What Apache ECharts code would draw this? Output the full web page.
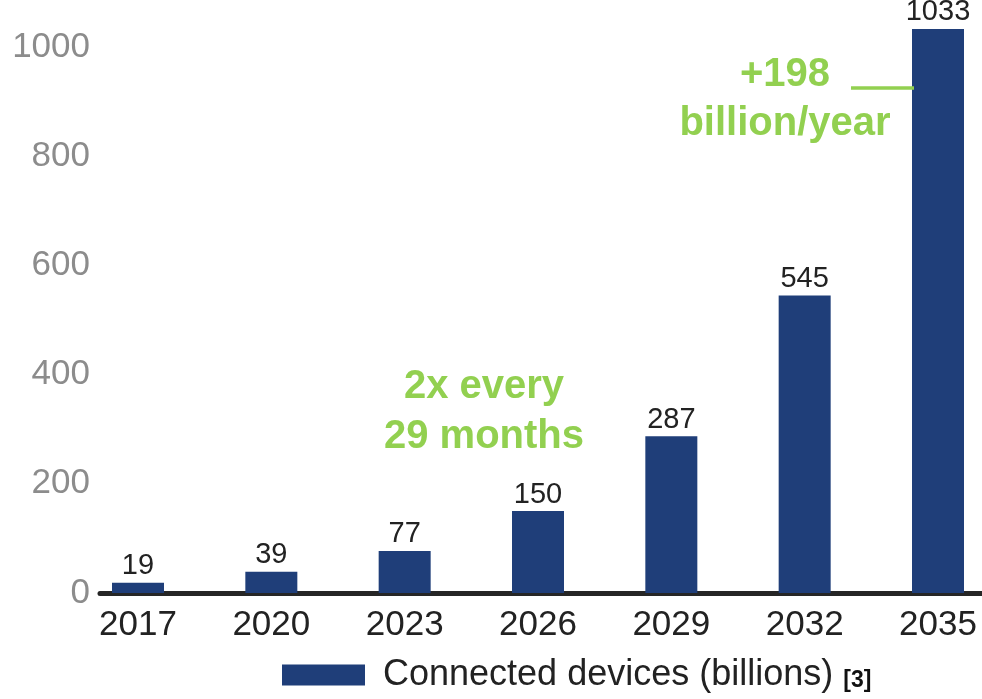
<!DOCTYPE html>
<html>
<head>
<meta charset="utf-8">
<title>Connected devices (billions)</title>
<script src="https://cdn.jsdelivr.net/npm/echarts@6/dist/echarts.min.js"></script>
<style>
  html, body { margin: 0; padding: 0; background: #ffffff; }
  #chart { width: 982px; height: 699px; }
</style>
</head>
<body>
<div id="chart"></div>
<script>
// Years shown on the category axis
const years = ['2017', '2020', '2023', '2026', '2029', '2032', '2035'];
// Connected devices per year, in billions
const devices = [19, 39, 77, 150, 287, 545, 1033];
// Value-axis range and step
const yMin = 0;
const yMax = 1000;
const yStep = 200;

const seriesName = 'Connected devices (billions)';
const footnote = '[3]';
const growthNote = ['2x every', '29 months'];
const rateNote = ['+198', 'billion/year'];

const BAR = '#1f3e79';
const GREEN = '#92d050';
const FONT = '"Liberation Sans", Arial, sans-serif';

const chart = echarts.init(document.getElementById('chart'), null, { renderer: 'canvas' });

const plotTop = 47;
const plotHeight = 546;

chart.setOption({
  animation: false,
  backgroundColor: '#ffffff',
  textStyle: { fontFamily: FONT },
  grid: [
    // bars and year labels: categories sit on the grid edges
    { left: 138, top: plotTop, width: 800, height: plotHeight, containLabel: false },
    // baseline and value labels
    { left: 100, top: plotTop, right: 0, height: plotHeight, containLabel: false }
  ],
  xAxis: [
    {
      gridIndex: 0,
      type: 'category',
      data: years,
      boundaryGap: false,
      axisLine: { show: false },
      axisTick: { show: false },
      axisLabel: { color: '#222222', fontSize: 35, fontFamily: FONT, margin: 15 }
    },
    {
      gridIndex: 1,
      type: 'category',
      data: years,
      axisLine: { show: true, lineStyle: { color: '#262626', width: 5 } },
      axisTick: { show: false },
      axisLabel: { show: false }
    }
  ],
  yAxis: [
    {
      gridIndex: 0,
      type: 'value',
      min: yMin, max: yMax, interval: yStep,
      show: false,
      splitLine: { show: false }
    },
    {
      gridIndex: 1,
      type: 'value',
      min: yMin, max: yMax, interval: yStep,
      axisLine: { show: false },
      axisTick: { show: false },
      splitLine: { show: false },
      axisLabel: {
        color: '#8c8c8c', fontSize: 35, fontFamily: FONT, margin: 10,
        formatter: function (v) { return String(v); }
      }
    }
  ],
  legend: {
    left: 277,
    top: 652,
    itemWidth: 83,
    itemHeight: 21,
    icon: 'rect',
    data: [seriesName],
    formatter: function (name) {
      return '{a|' + name + '}{b|' + footnote + '}';
    },
    textStyle: {
      rich: {
        a: { fontSize: 36, color: '#222222', fontFamily: FONT, padding: [0, 0, 0, 13] },
        b: { fontSize: 23, color: '#111111', fontWeight: 'bold', fontFamily: '"Liberation Sans Narrow", ' + FONT, padding: [12, 0, 0, 10] }
      }
    }
  },
  series: [
    {
      name: seriesName,
      type: 'bar',
      xAxisIndex: 0,
      yAxisIndex: 0,
      data: devices,
      barWidth: 52,
      clip: false,
      itemStyle: { color: BAR },
      label: {
        show: true,
        position: 'top',
        distance: 2,
        color: '#222222',
        fontSize: 29,
        fontFamily: FONT
      }
    }
  ],
  graphic: [
    { type: 'text', z: 10, style: { text: growthNote[0], x: 484, y: 387, align: 'center', verticalAlign: 'middle', font: 'bold 40px ' + FONT, fill: GREEN } },
    { type: 'text', z: 10, style: { text: growthNote[1], x: 484, y: 437, align: 'center', verticalAlign: 'middle', font: 'bold 40px ' + FONT, fill: GREEN } },
    { type: 'text', z: 10, style: { text: rateNote[0], x: 785, y: 75, align: 'center', verticalAlign: 'middle', font: 'bold 40px ' + FONT, fill: GREEN } },
    { type: 'text', z: 10, style: { text: rateNote[1], x: 785, y: 124, align: 'center', verticalAlign: 'middle', font: 'bold 40px ' + FONT, fill: GREEN } },
    { type: 'line', z: 10, shape: { x1: 851, y1: 88, x2: 914, y2: 88 }, style: { stroke: GREEN, lineWidth: 3.5 } }
  ]
});
</script>
</body>
</html>
